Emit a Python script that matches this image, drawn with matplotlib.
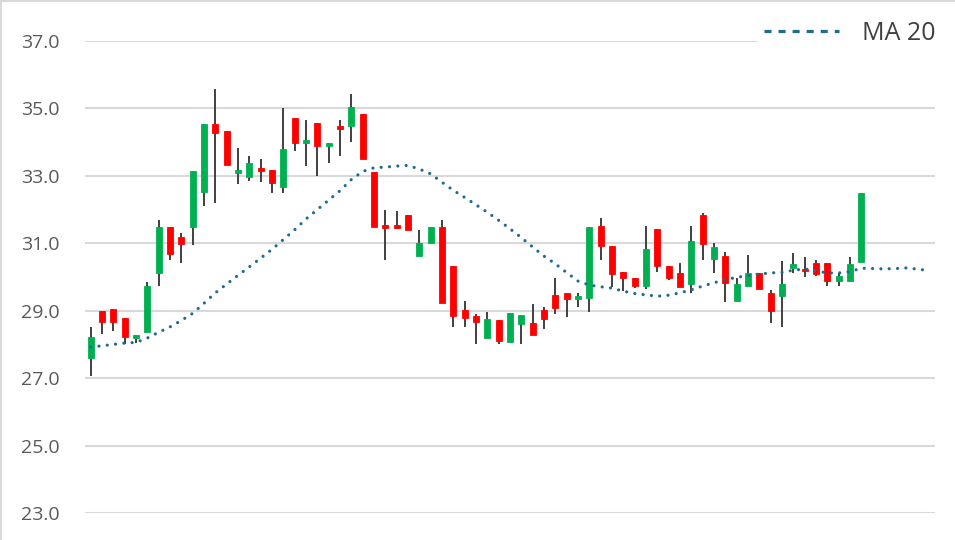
import matplotlib.pyplot as plt
from matplotlib.lines import Line2D
from matplotlib.patches import Rectangle

# candle values
opens = [27.59, 28.99, 29.04, 28.79, 28.20, 28.38, 30.13, 31.48, 31.18, 31.48,
         32.53, 34.54, 34.32, 33.09, 32.98, 33.23, 33.18, 32.68, 34.72, 33.98,
         34.57, 33.88, 34.47, 34.47, 34.82, 33.12, 31.53, 31.53, 31.83, 30.63,
         31.02, 31.47, 30.33, 29.03, 28.84, 28.18, 28.73, 28.08, 28.60, 28.63,
         29.02, 29.47, 29.54, 29.34, 29.39, 31.52, 30.93, 30.14, 29.98, 29.73,
         31.42, 30.32, 30.13, 29.78, 31.83, 30.53, 30.62, 29.29, 29.73, 30.13,
         29.54, 29.44, 30.28, 30.23, 30.43, 30.43, 29.88, 29.88, 30.44]
closes = [28.23, 28.68, 28.68, 28.23, 28.28, 29.74, 31.48, 30.69, 30.99, 33.13,
          34.53, 34.28, 33.33, 33.18, 33.37, 33.13, 32.78, 33.81, 33.98, 34.07,
          33.88, 33.98, 34.38, 35.03, 33.49, 31.49, 31.46, 31.46, 31.38, 31.02,
          31.49, 29.24, 28.85, 28.78, 28.68, 28.75, 28.09, 28.92, 28.88, 28.28,
          28.75, 29.09, 29.34, 29.44, 31.47, 30.93, 30.09, 29.98, 29.74, 30.82,
          30.33, 29.98, 29.70, 31.08, 30.98, 30.88, 29.83, 29.78, 30.13, 29.64,
          28.99, 29.78, 30.38, 30.19, 30.08, 29.88, 30.03, 30.38, 32.48]
highs = [28.51, 29.00, 29.04, 28.79, 28.28, 29.84, 31.69, 31.48, 31.30, 33.13,
         34.53, 35.59, 34.32, 33.84, 33.60, 33.50, 33.18, 35.00, 34.72, 34.65,
         34.57, 33.98, 34.65, 35.44, 34.82, 33.12, 32.00, 31.96, 31.83, 31.40,
         31.49, 31.69, 30.33, 29.30, 28.90, 28.95, 28.73, 28.92, 28.88, 29.20,
         29.10, 29.96, 29.54, 29.52, 31.47, 31.75, 30.93, 30.14, 29.98, 31.51,
         31.42, 30.32, 30.41, 31.51, 31.91, 31.00, 30.75, 29.98, 30.65, 30.13,
         29.62, 30.46, 30.70, 30.60, 30.51, 30.43, 30.11, 30.60, 32.48]
lows = [27.07, 28.31, 28.41, 28.02, 28.04, 28.38, 29.72, 30.51, 30.41, 30.95,
        32.11, 32.20, 33.33, 32.76, 32.86, 32.81, 32.50, 32.50, 33.75, 33.30,
        33.00, 33.37, 33.60, 34.00, 33.49, 31.49, 30.50, 31.41, 31.38, 30.63,
        31.00, 29.24, 28.51, 28.51, 28.02, 28.18, 28.02, 28.08, 28.02, 28.28,
        28.46, 28.90, 28.81, 29.10, 28.95, 30.50, 29.71, 29.57, 29.67, 29.64,
        30.16, 29.91, 29.70, 29.52, 30.51, 30.11, 29.25, 29.29, 29.73, 29.64,
        28.63, 28.51, 30.11, 30.01, 30.03, 29.72, 29.72, 29.88, 30.44]

# 20-period moving average, runs a few periods past the last candle
ma20 = [27.92, 27.96, 28.00, 28.04, 28.06, 28.19, 28.36, 28.52, 28.71, 28.92,
        29.22, 29.53, 29.79, 30.05, 30.30, 30.56, 30.82, 31.11, 31.40, 31.72,
        32.00, 32.28, 32.56, 32.89, 33.13, 33.24, 33.26, 33.29, 33.31, 33.20,
        33.06, 32.81, 32.57, 32.36, 32.14, 31.92, 31.68, 31.43, 31.17, 30.89,
        30.62, 30.39, 30.13, 29.88, 29.76, 29.71, 29.67, 29.58, 29.51, 29.47,
        29.43, 29.46, 29.53, 29.62, 29.73, 29.83, 29.92, 29.99, 30.04, 30.09,
        30.12, 30.14, 30.20, 30.24, 30.18, 30.12, 30.12, 30.16, 30.26, 30.25,
        30.24, 30.25, 30.27, 30.23, 30.19]

yticks = [23.0, 25.0, 27.0, 29.0, 31.0, 33.0, 35.0, 37.0]

green = '#00B050'
red = '#FF0000'
wick = '#404040'
ma_color = '#1F6A8F'

fig = plt.figure(figsize=(9.55, 5.4), dpi=100)
ax = fig.add_axes([85 / 955, 1 - 513 / 540, 850 / 955, 472 / 540])

for i in range(len(opens)):
    o, c, h, l = opens[i], closes[i], highs[i], lows[i]
    col = green if c >= o else red
    ax.vlines(i, l, h, color=wick, linewidth=1.4, zorder=2)
    bot = min(o, c)
    ht = max(abs(c - o), 0.06)
    ax.bar(i, ht, bottom=bot, width=0.53, color=col, edgecolor=col,
           linewidth=0.6, zorder=3)

ax.plot(range(len(ma20)), ma20, color=ma_color, linewidth=2.3,
        dashes=(0.01, 2.6), dash_capstyle='round', zorder=4)

ax.set_xlim(-0.5, 74.5)
ax.set_ylim(23, 37)
ax.set_yticks(yticks)
ax.set_yticklabels([f'{v:.1f}' for v in yticks])
ax.set_xticks([])
ax.grid(axis='y', color='#D9D9D9', linewidth=1.5, zorder=0)
ax.set_axisbelow(True)
for s in ax.spines.values():
    s.set_visible(False)
ax.tick_params(axis='y', length=0, pad=18, labelsize=14, labelcolor='#595959')
for t in ax.get_yticklabels():
    t.set_fontfamily('Open Sans')

handle = Line2D([0], [0], color=ma_color, linewidth=2.3, dashes=(2.2, 2.2))
leg = fig.legend(handles=[handle], labels=['MA 20'], loc='upper right',
                 bbox_to_anchor=(955 / 955, 1 - 1 / 540), frameon=True,
                 handlelength=3.0, handletextpad=0.9, borderpad=0.3,
                 prop={'family': 'Open Sans', 'size': 18})
leg.get_frame().set_facecolor('white')
leg.get_frame().set_edgecolor('none')
leg.get_frame().set_alpha(1)
for t in leg.get_texts():
    t.set_color('#404040')

fig.patches.append(Rectangle((0.001, -0.01), 1.2, 1.0075, transform=fig.transFigure,
                             fill=False, edgecolor='#D9D9D9', linewidth=1.5))

fig.savefig('out.png', dpi=100)
